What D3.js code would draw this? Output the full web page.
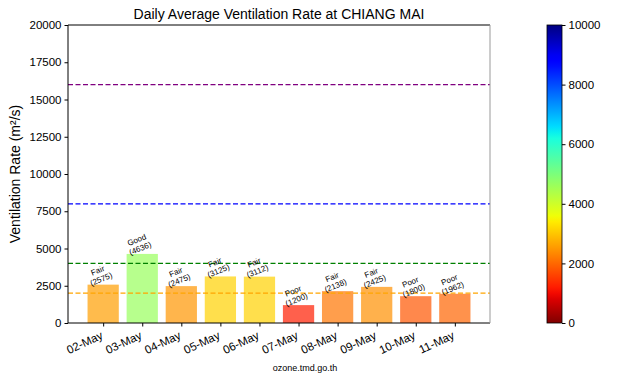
<!DOCTYPE html>
<html>
<head>
<meta charset="utf-8">
<script src="https://cdn.jsdelivr.net/npm/d3@7"></script>
<style>
  body { margin: 0; background: #fff; }
  svg { font-family: "Liberation Sans", Arial, sans-serif; }
</style>
</head>
<body>
<svg id="chart" width="640" height="384"></svg>
<script>
// dimensions of the svg
var width = 640, height = 384;
var plot = {left: 68, right: 490, top: 25, bottom: 323};

// data
var dates = ['02-May', '03-May', '04-May', '05-May', '06-May', '07-May', '08-May', '09-May', '10-May', '11-May'];
var rates = [2575, 4636, 2475, 3125, 3112, 1200, 2138, 2425, 1800, 1962];
var levels = ['Fair', 'Good', 'Fair', 'Fair', 'Fair', 'Poor', 'Fair', 'Fair', 'Poor', 'Poor'];
var yTicks = [0, 2500, 5000, 7500, 10000, 12500, 15000, 17500, 20000];
var cbTicks = [0, 2000, 4000, 6000, 8000, 10000];
var thresholds = [
  {value: 2000, color: '#ffa500'},
  {value: 4000, color: '#008000'},
  {value: 8000, color: '#0000ff'},
  {value: 16000, color: '#800080'}
];

// matplotlib "jet" colormap, reversed for this chart
function jet(t) {
  function seg(pts) {
    for (var i = 1; i < pts.length; i++) {
      if (t <= pts[i][0]) {
        var a = pts[i - 1], b = pts[i];
        return a[1] + (b[1] - a[1]) * (t - a[0]) / (b[0] - a[0]);
      }
    }
    return pts[pts.length - 1][1];
  }
  var r = seg([[0, 0], [0.35, 0], [0.66, 1], [0.89, 1], [1, 0.5]]);
  var g = seg([[0, 0], [0.125, 0], [0.375, 1], [0.64, 1], [0.91, 0], [1, 0]]);
  var b = seg([[0, 0.5], [0.11, 1], [0.34, 1], [0.65, 0], [1, 0]]);
  return d3.rgb(r * 255, g * 255, b * 255);
}
function rateColor(v) {
  var t = Math.max(0, Math.min(1, v / 10000));
  return jet(1 - t);
}

var svg = d3.select('#chart');

var x = d3.scaleLinear().domain([-0.9, dates.length - 0.1]).range([plot.left, plot.right]);
var y = d3.scaleLinear().domain([0, 20000]).range([plot.bottom, plot.top]);
var barW = x(0.8) - x(0);

// bars
svg.append('g')
  .selectAll('rect')
  .data(rates)
  .enter().append('rect')
  .attr('x', function(d, i) { return x(i) - barW / 2; })
  .attr('y', function(d) { return y(d); })
  .attr('width', barW)
  .attr('height', function(d) { return y(0) - y(d); })
  .attr('fill', function(d) { return rateColor(d); })
  .attr('fill-opacity', 0.7);

// threshold lines
svg.append('g')
  .selectAll('line')
  .data(thresholds)
  .enter().append('line')
  .attr('x1', plot.left)
  .attr('x2', plot.right)
  .attr('y1', function(d) { return y(d.value); })
  .attr('y2', function(d) { return y(d.value); })
  .attr('stroke', function(d) { return d.color; })
  .attr('stroke-width', 1.2)
  .attr('stroke-dasharray', '5,2.5');

// bar labels
var labels = svg.append('g')
  .selectAll('text')
  .data(rates)
  .enter().append('text')
  .attr('transform', function(d, i) {
    return 'translate(' + (x(i) - 1) + ',' + (y(d) - 3) + ') rotate(-22)';
  })
  .attr('text-anchor', 'middle')
  .attr('font-size', 8)
  .attr('fill', '#000');
labels.append('tspan')
  .attr('x', 0).attr('dy', '-1.15em')
  .text(function(d, i) { return levels[i]; });
labels.append('tspan')
  .attr('x', 0).attr('dy', '1.15em')
  .text(function(d) { return '(' + d + ')'; });

// axes
var yAxis = svg.append('g')
  .attr('transform', 'translate(' + plot.left + ',0)')
  .call(d3.axisLeft(y).tickValues(yTicks).tickFormat(d3.format('d')).tickSize(3.5).tickPadding(3));
yAxis.selectAll('text').attr('font-size', 11.5).attr('fill', '#000').attr('font-family', null);

var xAxis = svg.append('g')
  .attr('transform', 'translate(0,' + plot.bottom + ')')
  .call(d3.axisBottom(x).tickValues(d3.range(dates.length))
    .tickFormat(function(i) { return dates[i]; }).tickSize(3.5));
xAxis.selectAll('text')
  .attr('font-size', 11.5).attr('fill', '#000').attr('font-family', null)
  .attr('text-anchor', 'end')
  .attr('y', 0)
  .attr('dy', null)
  .attr('transform', 'translate(0,15) rotate(-25)');

svg.selectAll('.domain').remove();

// frame
svg.append('line').attr('x1', plot.left).attr('x2', plot.right).attr('y1', plot.top).attr('y2', plot.top).attr('stroke', '#000');
svg.append('line').attr('x1', plot.left).attr('x2', plot.right).attr('y1', plot.bottom).attr('y2', plot.bottom).attr('stroke', '#000');
svg.append('line').attr('x1', plot.left).attr('x2', plot.left).attr('y1', plot.top).attr('y2', plot.bottom).attr('stroke', '#000');
svg.append('line').attr('x1', plot.right).attr('x2', plot.right).attr('y1', plot.top).attr('y2', plot.bottom).attr('stroke', '#999');

// title and axis label
svg.append('text')
  .attr('x', (plot.left + plot.right) / 2)
  .attr('y', 19)
  .attr('text-anchor', 'middle')
  .attr('font-size', 14)
  .text('Daily Average Ventilation Rate at CHIANG MAI');

svg.append('text')
  .attr('transform', 'translate(20,' + (plot.top + plot.bottom) / 2 + ') rotate(-90)')
  .attr('text-anchor', 'middle')
  .attr('font-size', 14)
  .text('Ventilation Rate (m²/s)');

svg.append('text')
  .attr('x', 305)
  .attr('y', 371)
  .attr('text-anchor', 'middle')
  .attr('font-size', 9)
  .text('ozone.tmd.go.th');

// colorbar
var cb = {left: 547, width: 15};
var cy = d3.scaleLinear().domain([0, 10000]).range([plot.bottom, plot.top]);
var defs = svg.append('defs');
var grad = defs.append('linearGradient')
  .attr('id', 'cbgrad')
  .attr('x1', 0).attr('y1', 1).attr('x2', 0).attr('y2', 0);
grad.selectAll('stop')
  .data(d3.range(0, 1.0001, 0.02))
  .enter().append('stop')
  .attr('offset', function(d) { return d; })
  .attr('stop-color', function(d) { return rateColor(d * 10000); });

svg.append('rect')
  .attr('x', cb.left)
  .attr('y', plot.top)
  .attr('width', cb.width)
  .attr('height', plot.bottom - plot.top)
  .attr('fill', 'url(#cbgrad)')
  .attr('stroke', '#000')
  .attr('stroke-width', 0.8);

var cAxis = svg.append('g')
  .attr('transform', 'translate(' + (cb.left + cb.width) + ',0)')
  .call(d3.axisRight(cy).tickValues(cbTicks).tickFormat(d3.format('d')).tickSize(3.5).tickPadding(3));
cAxis.select('.domain').remove();
cAxis.selectAll('text').attr('font-size', 11.5).attr('fill', '#000').attr('font-family', null);
</script>
</body>
</html>
